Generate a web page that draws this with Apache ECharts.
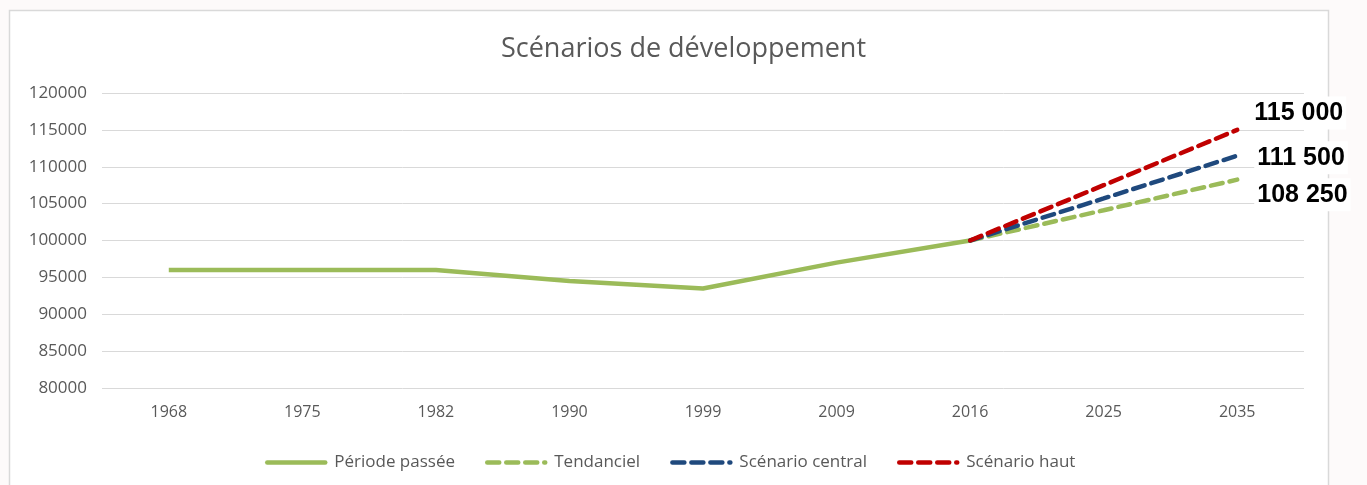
<!DOCTYPE html>
<html>
<head>
<meta charset="utf-8">
<script src="https://cdn.jsdelivr.net/npm/echarts@6/dist/echarts.min.js"></script>
<style>
  html, body { margin: 0; padding: 0; background: #fdfafa; }
  #chart { width: 1367px; height: 485px; }
</style>
</head>
<body>
<div id="chart"></div>
<script>
const years = ['1968', '1975', '1982', '1990', '1999', '2009', '2016', '2025', '2035']
const passee = [96000, 96000, 96000, 94500, 93500, 97000, 100000, null, null]
const tendanciel = [null, null, null, null, null, null, 100000, 104100, 108250]
const central = [null, null, null, null, null, null, 100000, 105700, 111500]
const haut = [null, null, null, null, null, null, 100000, 107500, 115000]

const textColor = '#595959'
const font = 'Open Sans'

function fmt(v) {
  return String(v).replace(/\B(?=(\d{3})+(?!\d))/g, ' ')
}

function endLabel(offset) {
  return {
    show: true,
    distance: 5,
    offset: offset,
    formatter: p => fmt(p.value),
    color: '#000',
    fontFamily: 'Liberation Sans, Arial',
    fontWeight: 'bold',
    fontSize: 25,
    backgroundColor: '#fff',
    padding: [4, 3]
  }
}

function scenario(name, data, color, offset) {
  return {
    name: name,
    type: 'line',
    data: data,
    symbol: 'none',
    lineStyle: { color: color, width: 4.5, type: [12, 7], cap: 'round' },
    itemStyle: { color: color },
    endLabel: endLabel(offset)
  }
}

const chart = echarts.init(document.getElementById('chart'))
chart.setOption({
  animation: false,
  graphic: [{
    type: 'rect',
    z: -10,
    shape: { x: 9.5, y: 10.5, width: 1319, height: 500 },
    style: { fill: '#fff', stroke: '#d9d9d9', lineWidth: 1.5 }
  }],
  title: {
    text: 'Scénarios de développement',
    left: 'center',
    top: 31,
    textStyle: { fontFamily: font, fontSize: 27, fontWeight: 'normal', color: textColor }
  },
  legend: {
    top: 449,
    left: 260,
    itemWidth: 58,
    itemHeight: 14,
    itemGap: 30,
    itemStyle: { opacity: 0 },
    lineStyle: { width: 4.5, cap: 'round' },
    textStyle: { fontFamily: font, fontSize: 17, color: textColor, padding: [0, 0, 0, 4] },
    data: ['Période passée', 'Tendanciel', 'Scénario central', 'Scénario haut']
  },
  grid: { left: 102, right: 63, top: 93, bottom: 97 },
  xAxis: {
    type: 'category',
    data: years,
    boundaryGap: true,
    axisLine: { show: false },
    axisTick: { show: false },
    axisLabel: { margin: 16, fontFamily: font, fontSize: 16, color: textColor }
  },
  yAxis: {
    type: 'value',
    min: 80000,
    max: 120000,
    interval: 5000,
    axisLine: { show: false },
    axisTick: { show: false },
    axisLabel: { margin: 15, fontFamily: font, fontSize: 17, color: textColor, formatter: v => String(v) },
    splitLine: { lineStyle: { color: '#d9d9d9', width: 1 } }
  },
  series: [
    {
      name: 'Période passée',
      type: 'line',
      data: passee,
      symbol: 'none',
      lineStyle: { color: '#9bbb59', width: 4.5 },
      itemStyle: { color: '#9bbb59' }
    },
    scenario('Tendanciel', tendanciel, '#9bbb59', [12, 15]),
    scenario('Scénario central', central, '#1f497d', [12, 2]),
    scenario('Scénario haut', haut, '#c00000', [9, -17])
  ]
})
</script>
</body>
</html>
